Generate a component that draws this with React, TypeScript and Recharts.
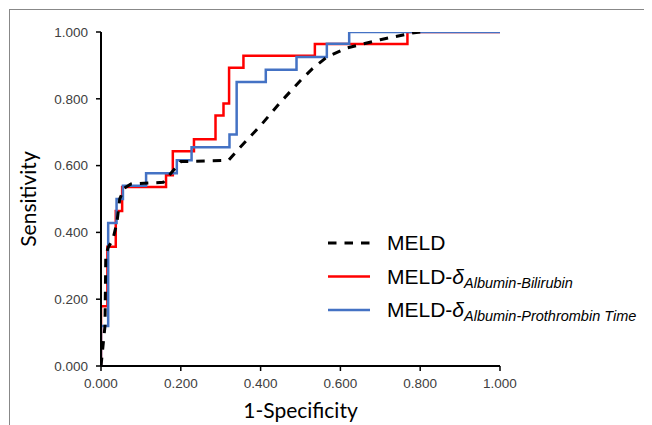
import React from 'react';
import { LineChart, Line, XAxis, YAxis, Legend } from 'recharts';

const meldX = [0, 0.01, 0.012, 0.018, 0.03, 0.04, 0.047, 0.058, 0.075, 0.156, 0.2, 0.32, 0.345, 0.4, 0.45, 0.5, 0.53, 0.566, 0.616, 0.7, 0.78, 0.8];
const meldY = [0, 0.12, 0.33, 0.355, 0.38, 0.43, 0.5, 0.532, 0.545, 0.55, 0.612, 0.616, 0.65, 0.72, 0.79, 0.855, 0.89, 0.925, 0.952, 0.977, 0.997, 1];

const redX = [0, 0, 0.016, 0.016, 0.037, 0.037, 0.053, 0.053, 0.163, 0.163, 0.18, 0.18, 0.233, 0.233, 0.287, 0.287, 0.307, 0.307, 0.321, 0.321, 0.357, 0.357, 0.536, 0.536, 0.768, 0.768, 1];
const redY = [0, 0.179, 0.179, 0.357, 0.357, 0.464, 0.464, 0.536, 0.536, 0.571, 0.571, 0.643, 0.643, 0.679, 0.679, 0.75, 0.75, 0.786, 0.786, 0.893, 0.893, 0.929, 0.929, 0.964, 0.964, 1, 1];

const blueX = [0, 0, 0.018, 0.018, 0.039, 0.039, 0.055, 0.055, 0.113, 0.113, 0.19, 0.19, 0.227, 0.227, 0.322, 0.322, 0.34, 0.34, 0.413, 0.413, 0.49, 0.49, 0.566, 0.566, 0.622, 0.622, 1];
const blueY = [0, 0.12, 0.12, 0.428, 0.428, 0.5, 0.5, 0.54, 0.54, 0.577, 0.577, 0.616, 0.616, 0.655, 0.655, 0.693, 0.693, 0.85, 0.85, 0.887, 0.887, 0.925, 0.925, 0.965, 0.965, 1, 1];

const ticks = [0, 0.2, 0.4, 0.6, 0.8, 1];
const seriesNames = ['MELD', 'MELD-δ', 'MELD-δ'];
const seriesSubs = ['', 'Albumin-Bilirubin', 'Albumin-Prothrombin Time'];
const seriesColors = ['#000000', '#FF0000', '#4472C4'];

const toPts = (xs: number[], ys: number[]) => xs.map((x, i) => ({ x, y: ys[i] }));
const meldData = toPts(meldX, meldY);
const redData = toPts(redX, redY);
const blueData = toPts(blueX, blueY);

const tickFont = { fontFamily: 'Liberation Sans, Arial, sans-serif', fontSize: 13.5, fill: '#404040' };
const titleFont = 'Lato, Open Sans, sans-serif';

const renderLegend = () => (
  <svg width={330} height={110} style={{ display: 'block' }}>
    {seriesNames.map((name, i) => {
      const cy = 20 + i * 33.5;
      return (
        <g key={i}>
          <line x1={10} x2={52} y1={cy} y2={cy} stroke={seriesColors[i]} strokeWidth={i === 0 ? 3 : 2.5} strokeDasharray={i === 0 ? '8.5 8' : undefined} />
          <text x={69} y={cy + 7} fontFamily="Liberation Sans, Arial, sans-serif" fontSize={21} fill="#000">
            {name.replace('δ', '')}
            {name.includes('δ') ? <tspan fontStyle="italic">δ</tspan> : null}
            {seriesSubs[i] ? (
              <tspan fontStyle="italic" fontSize={14.5} dy={4}>{seriesSubs[i]}</tspan>
            ) : null}
          </text>
        </g>
      );
    })}
  </svg>
);

export default function App() {
  return (
    <div style={{ position: 'relative', width: 644, height: 417 }}>
      <div style={{ position: 'absolute', left: 1, top: 1, width: 643, height: 416, borderTop: '1px solid #888', borderLeft: '1px solid #888', boxSizing: 'border-box' }} />
      <div style={{ position: 'absolute', left: 0, top: 0 }}>
        <LineChart width={644} height={417} margin={{ top: 24, right: 152, bottom: 9, left: 0 }}>
          <XAxis
            dataKey="x"
            type="number"
            domain={[0, 1]}
            ticks={ticks}
            tickFormatter={(v: number) => v.toFixed(3)}
            allowDataOverflow
            height={50}
            tickSize={5}
            tickMargin={7}
            stroke="#000"
            strokeWidth={2}
            tick={tickFont}
            tickLine={{ stroke: '#000', strokeWidth: 1.5 }}
            label={{
              content: () => (
                <text x={292.5} y={410} textAnchor="middle" fontFamily={titleFont} fontSize={21} fill="#000">1-Specificity</text>
              ),
            }}
          />
          <YAxis
            dataKey="y"
            type="number"
            domain={[0, 1]}
            ticks={ticks}
            tickFormatter={(v: number) => v.toFixed(3)}
            allowDataOverflow
            width={93}
            tickSize={5}
            tickMargin={8}
            stroke="#000"
            strokeWidth={2}
            tick={tickFont}
            tickLine={{ stroke: '#000', strokeWidth: 1.5 }}
            label={{
              content: () => (
                <text x={28} y={191} textAnchor="middle" transform="rotate(-90 28 191)" fontFamily={titleFont} fontSize={21} fill="#000">Sensitivity</text>
              ),
            }}
          />
          <Legend
            layout="vertical"
            align="center"
            verticalAlign="middle"
            wrapperStyle={{ left: 310, top: 215, width: 330, height: 110 }}
            content={renderLegend}
          />
          <Line data={redData} dataKey="y" type="linear" stroke="#FF0000" strokeWidth={2.5} dot={false} activeDot={false} isAnimationActive={false} name="red" />
          <Line data={blueData} dataKey="y" type="linear" stroke="#4472C4" strokeWidth={2.5} dot={false} activeDot={false} isAnimationActive={false} name="blue" />
          <Line data={meldData} dataKey="y" type="linear" stroke="#000" strokeWidth={3} strokeDasharray="8.5 8" dot={false} activeDot={false} isAnimationActive={false} name="meld" />
        </LineChart>
      </div>
    </div>
  );
}
